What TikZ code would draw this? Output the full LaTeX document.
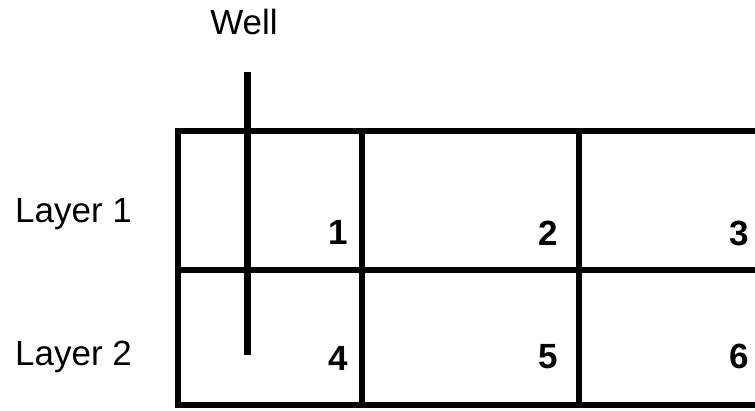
\documentclass[tikz,border=0pt]{standalone}
\usepackage{fontspec}
\setmainfont{Liberation Sans}
\usepackage{tikz}
\usetikzlibrary{positioning}
\tikzset{
  gridline/.style={line width=6.5pt},
  wellline/.style={line width=7pt},
  lbl/.style={font=\fontsize{35}{42}\selectfont,inner sep=0pt},
  cellnum/.style={font=\fontsize{35}{42}\selectfont\bfseries,inner sep=0pt,anchor=base east}
}

\begin{document}
\begin{tikzpicture}[x=1pt,y=1pt]
  \useasboundingbox (0,0) rectangle (755,410);
  % grid of cells, cut off at the right edge
  \begin{scope}
    \clip (0,0) rectangle (755,410);
    \draw[gridline] (178,5) rectangle (810,279);
    \draw[gridline] (178,140) -- (810,140);
    \draw[gridline] (362,5) -- (362,279);
    \draw[gridline] (579,5) -- (579,279);
  \end{scope}
  % well
  \node[lbl,anchor=base] (well) at (244,375) {Well};
  \coordinate (welltop) at (247,338);
  \coordinate (wellbot) at (247,55);
  \draw[wellline] (welltop) -- (wellbot);
  % layers
  \node[lbl,anchor=base west] (layer1) at (15,187) {Layer 1};
  \node[lbl,anchor=base west] (layer2) at (15,45) {Layer 2};
  % cell numbers
  \foreach \n/\x/\y in {1/348.5/165,2/558.5/164,3/749.5/164,4/348.5/40,5/558.5/42,6/749.5/42}
    \node[cellnum] (cell\n) at (\x,\y) {\n};
\end{tikzpicture}
\end{document}
